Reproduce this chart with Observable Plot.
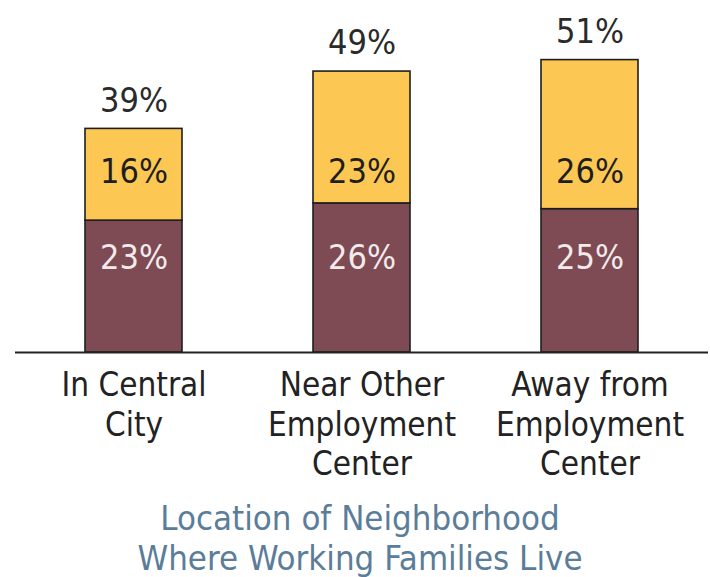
<!DOCTYPE html>
<html>
<head>
<meta charset="utf-8">
<script src="https://cdn.jsdelivr.net/npm/d3@7"></script>
<script src="https://cdn.jsdelivr.net/npm/@observablehq/plot@0.6"></script>
<style>
  html, body { margin: 0; padding: 0; background: #fff; }
  #chart { width: 710px; height: 498px; }
  .caption {
    font-family: "DejaVu Sans Condensed", "DejaVu Sans", sans-serif;
    font-size: 34.5px; line-height: 40px; color: #5b7d99;
    text-align: center; width: 710px; padding-left: 10px; box-sizing: border-box;
  }
</style>
</head>
<body>
<div id="chart"></div>
<div class="caption">Location of Neighborhood<br>Where Working Families Live</div>
<script>
const categories = ["In Central City", "Near Other Employment Center", "Away from Employment Center"];
const tickLabels = ["In Central\nCity", "Near Other\nEmployment\nCenter", "Away from\nEmployment\nCenter"];
const seriesNames = ["Lower segment", "Upper segment"];
const lowerValues = [23, 26, 25];
const upperValues = [16, 23, 26];
const totals = [39, 49, 51];

const rows = [];
categories.forEach((c, i) => {
  rows.push({category: c, series: seriesNames[0], value: lowerValues[i]});
  rows.push({category: c, series: seriesNames[1], value: upperValues[i]});
});
const totalRows = categories.map((c, i) => ({category: c, total: totals[i]}));
const lowerRows = rows.filter(d => d.series === seriesNames[0]);
const upperRows = rows.filter(d => d.series === seriesNames[1]);
const tickMap = new Map(categories.map((c, i) => [c, tickLabels[i]]));

const font = "'DejaVu Sans Condensed', 'DejaVu Sans', sans-serif";

const chart = Plot.plot({
  width: 710,
  height: 498,
  marginTop: 8,
  marginBottom: 146,
  marginLeft: 15,
  marginRight: 2,
  style: {fontFamily: font, background: "#fff", overflow: "visible"},
  x: {domain: categories, paddingInner: 0.575, paddingOuter: 0.303},
  y: {domain: [0, 60]},
  color: {domain: seriesNames, range: ["#7e4a54", "#fdc753"]},
  marks: [
    Plot.barY(rows, Plot.stackY({x: "category", y: "value", fill: "series", stroke: "#1e1e1e", strokeWidth: 1.6, order: seriesNames})),
    Plot.text(lowerRows, {x: "category", y: () => 16.4, text: d => d.value + "%", fill: "#f3eaec", fontSize: 34}),
    Plot.text(upperRows, {x: "category", y: () => 31.4, text: d => d.value + "%", fill: "#1e1e1e", fontSize: 34}),
    Plot.text(totalRows, {x: "category", y: "total", text: d => d.total + "%", dy: -28, fill: "#2a2a2a", fontSize: 34}),
    Plot.ruleY([0], {stroke: "#222", strokeWidth: 2}),
    Plot.axisX({tickSize: 0, tickPadding: 16, fontSize: 33, lineHeight: 1.19, tickFormat: d => tickMap.get(d), label: null, color: "#222"}),
    Plot.axisY({ticks: [], label: null})
  ]
});
document.getElementById("chart").appendChild(chart);
</script>
</body>
</html>
